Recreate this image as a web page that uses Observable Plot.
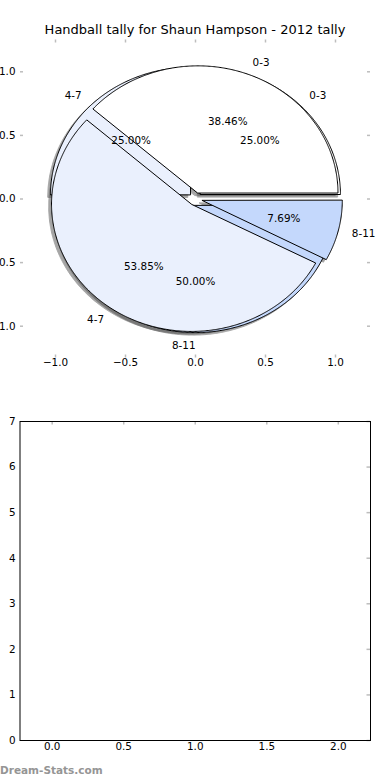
<!DOCTYPE html>
<html>
<head>
<meta charset="utf-8">
<script src="https://cdn.jsdelivr.net/npm/d3@7"></script>
<script src="https://cdn.jsdelivr.net/npm/@observablehq/plot@0.6"></script>
<style>
  html, body { margin: 0; padding: 0; background: #ffffff; }
  #fig { position: relative; width: 390px; height: 780px; overflow: hidden; background: #ffffff;
         font-family: "DejaVu Sans", sans-serif; }
  #pie { position: absolute; left: 0; top: 0; }
  #title { position: absolute; left: 0; top: 22px; width: 390px; text-align: center;
           font-size: 13px; line-height: 16px; color: #000; white-space: nowrap; }
  #empty { position: absolute; left: 0; top: 400px; }
  #wm { position: absolute; left: 0; top: 763px; font-size: 10.5px; line-height: 14px;
        font-weight: bold; color: #959595; white-space: nowrap; }
</style>
</head>
<body>
<div id="fig">
  <div id="pie"></div>
  <div id="title">Handball tally for Shaun Hampson - 2012 tally</div>
  <div id="empty"></div>
  <div id="wm">Dream-Stats.com</div>
</div>
<script>
// ---- data ----
const categories = ["0-3", "4-7", "8-11"];
const tallyA = [5, 7, 1];      // 38.46% / 53.85% / 7.69%
const tallyB = [1, 1, 2];      // 25.00% / 25.00% / 50.00%
const pieTicks = [-1.0, -0.5, 0.0, 0.5, 1.0];
const emptyXTicks = [0.0, 0.5, 1.0, 1.5, 2.0];
const emptyYTicks = [0, 1, 2, 3, 4, 5, 6, 7];

// ---- styles ----
const sliceFill = ["#ffffff", "#eaf0fd", "#c4d8fc"];
const EXPLODE = 0.05, RADIUS = 1, LABEL_D = 1.1, PCT_D = 0.6, SHADOW = -0.02;
const tickColor = "#bdbdbd";
const fmtTick = d => (d < 0 ? "\u2212" : "") + d3.format(".1f")(Math.abs(d));

function wedges(values, pieId) {
  const total = d3.sum(values);
  let cum = 0;
  return values.map((v, i) => {
    const f = v / total;
    const t1 = cum * 2 * Math.PI, t2 = (cum + f) * 2 * Math.PI;
    cum += f;
    const tm = (t1 + t2) / 2;
    const cx = EXPLODE * Math.cos(tm), cy = EXPLODE * Math.sin(tm);
    const n = Math.max(2, Math.ceil((t2 - t1) / (Math.PI / 360)));
    const pts = [{x: cx, y: cy}];
    for (let k = 0; k <= n; k++) {
      const t = t1 + (t2 - t1) * k / n;
      pts.push({x: cx + RADIUS * Math.cos(t), y: cy + RADIUS * Math.sin(t)});
    }
    const lx = cx + LABEL_D * RADIUS * Math.cos(tm), ly = cy + LABEL_D * RADIUS * Math.sin(tm);
    return {
      id: pieId + i, fill: sliceFill[i], pts,
      label: {x: lx, y: ly, text: categories[i], right: lx > 0},
      pct: {x: cx + PCT_D * RADIUS * Math.cos(tm), y: cy + PCT_D * RADIUS * Math.sin(tm),
            text: d3.format(".2f")(f * 100) + "%"}
    };
  });
}

const wA = wedges(tallyA, "A");
const wB = wedges(tallyB, "B");
const all = [...wB, ...wA];

const shadowMarks = all.map(w => Plot.line(w.pts, {
  x: d => d.x + SHADOW, y: d => d.y + SHADOW, curve: "linear-closed",
  fill: "#4d4d4d", stroke: "#4d4d4d", strokeWidth: 1, opacity: 0.5
}));
const wedgeMarks = all.map(w => Plot.line(w.pts, {
  x: "x", y: "y", curve: "linear-closed", fill: w.fill, stroke: "black", strokeWidth: 1
}));
const labels = all.map(w => w.label);
const pcts = all.map(w => w.pct);

const PIE_H = 390, PIE_MT = 39.5, PIE_MB = 32.5, PIE_ML = 20, PIE_MR = 20;
const pieFrameH = PIE_H - PIE_MT - PIE_MB, pieFrameW = 390 - PIE_ML - PIE_MR;
const TL = 3;

const pie = Plot.plot({
  width: 390, height: PIE_H,
  marginTop: PIE_MT, marginBottom: PIE_MB, marginLeft: PIE_ML, marginRight: PIE_MR,
  x: {domain: [-1.25, 1.25], axis: null},
  y: {domain: [-1.25, 1.25], axis: null},
  style: {fontFamily: "DejaVu Sans, sans-serif", fontSize: "10.4px", background: "transparent", color: "black"},
  marks: [
    ...shadowMarks,
    ...wedgeMarks,
    Plot.text(labels.filter(d => d.right), {x: "x", y: "y", text: "text", textAnchor: "start", fill: "black"}),
    Plot.text(labels.filter(d => !d.right), {x: "x", y: "y", text: "text", textAnchor: "end", fill: "black"}),
    Plot.text(pcts, {x: "x", y: "y", text: "text", textAnchor: "middle", fill: "black"}),
    // ticks (inward, all four sides)
    Plot.ruleX(pieTicks, {x: d => d, insetBottom: pieFrameH - TL, stroke: tickColor, strokeWidth: 1.5}),
    Plot.ruleX(pieTicks, {x: d => d, insetTop: pieFrameH - TL, stroke: tickColor, strokeWidth: 1.5}),
    Plot.ruleY(pieTicks, {y: d => d, insetRight: pieFrameW - TL, stroke: tickColor, strokeWidth: 1.5}),
    Plot.ruleY(pieTicks, {y: d => d, insetLeft: pieFrameW - TL, stroke: tickColor, strokeWidth: 1.5}),
    // tick labels
    Plot.text(pieTicks, {x: d => d, frameAnchor: "bottom", dy: 8, text: fmtTick, fill: "black"}),
    Plot.text(pieTicks, {y: d => d, frameAnchor: "left", dx: -5, textAnchor: "end", text: fmtTick, fill: "black"})
  ]
});
document.getElementById("pie").appendChild(pie);

const E_H = 380, E_MT = 21, E_MB = 40, E_ML = 19.5, E_MR = 20;
const eFrameH = E_H - E_MT - E_MB, eFrameW = 390 - E_ML - E_MR;

const empty = Plot.plot({
  width: 390, height: E_H,
  marginTop: E_MT, marginBottom: E_MB, marginLeft: E_ML, marginRight: E_MR,
  x: {domain: [-0.225, 2.225], axis: null},
  y: {domain: [0, 7], axis: null},
  style: {fontFamily: "DejaVu Sans, sans-serif", fontSize: "10.4px", background: "transparent", color: "black"},
  marks: [
    Plot.ruleX(emptyXTicks, {x: d => d, insetBottom: eFrameH - TL - 0.5, stroke: tickColor, strokeWidth: 1.5}),
    Plot.ruleY(emptyYTicks, {y: d => d, insetLeft: eFrameW - TL - 0.5, stroke: tickColor, strokeWidth: 1.5}),
    Plot.frame({stroke: "black", strokeWidth: 1}),
    Plot.text(emptyXTicks, {x: d => d, frameAnchor: "bottom", dy: 9, text: d => d3.format(".1f")(d), fill: "black"}),
    Plot.text(emptyYTicks, {y: d => d, frameAnchor: "left", dx: -4.5, textAnchor: "end", text: d => String(d), fill: "black"})
  ]
});
document.getElementById("empty").appendChild(empty);
</script>
</body>
</html>
